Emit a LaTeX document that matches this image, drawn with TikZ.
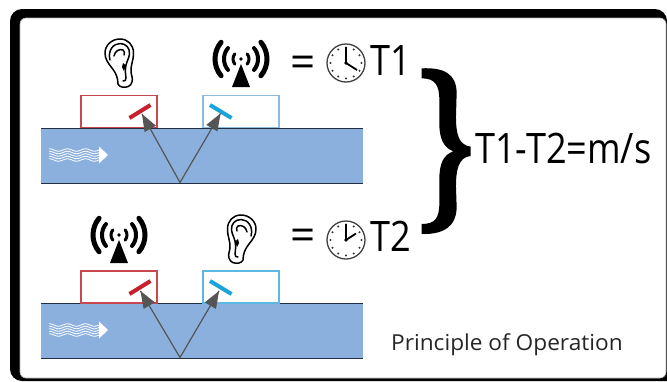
\documentclass[tikz,border=0pt]{standalone}
\usepackage{fontspec}
\setmainfont{Open Sans}
\newfontfamily\biglab[FakeStretch=0.86]{Open Sans}
\newfontfamily\smalllab[FakeStretch=1.03]{Open Sans}
\newfontfamily\eqlab{Open Sans}
\usetikzlibrary{calc}
\definecolor{pipeblue}{HTML}{8BB0DD}
\definecolor{pipeline}{HTML}{1F2F45}
\definecolor{redbox}{HTML}{C8474F}
\definecolor{bluebox}{HTML}{8DBBDD}
\definecolor{cyanbox}{HTML}{5BB8E0}
\definecolor{barred}{HTML}{C8202C}
\definecolor{barblue}{HTML}{18A4DC}
\definecolor{beam}{HTML}{555555}
\newcommand{\beamto}[2]{%
  \draw[draw=beam,line width=1.2pt] (#1) -- (#2);
  \fill[beam] (#2) -- ($(#2)!17pt!(#1)!6.5pt!90:(#1)$) -- ($(#2)!17pt!(#1)!6.5pt!-90:(#1)$) -- cycle;
}
\tikzset{
  pipe/.style={fill=pipeblue,draw=none,minimum width=322pt,minimum height=55pt,inner sep=0pt,outer sep=0pt},
  probebox/.style={fill=white,line width=1.1pt,minimum width=76pt,minimum height=32pt,inner sep=0pt,outer sep=0pt},
  bar/.style={line width=4pt},
  wave/.style={draw=white,line width=0.8pt},
  biglabel/.style={font=\biglab\fontsize{42}{42}\selectfont,text=black,inner sep=0pt},
  earicon/.pic={
    \begin{scope}[line width=1.5pt,draw=black,line cap=round,line join=round]
      \draw (13,45) .. controls (13,39) and (11,34) .. (7,29) .. controls (3,24) and (0,20) .. (0,14)
        .. controls (0,6) and (7,0) .. (15,0) .. controls (23,0) and (28.5,6) .. (28.5,14)
        .. controls (28.5,22) and (25.5,26) .. (26,33) .. controls (26.5,37) and (28,39) .. (27,43)
        .. controls (26,47.5) and (21,49) .. (17,48) .. controls (15,47.5) and (13.5,46.5) .. (13,45);
      \draw (5,21) .. controls (2.5,12) and (8,4.5) .. (15,4.5) .. controls (21,4.5) and (25,9) .. (24.5,15)
        .. controls (24,19) and (22,22) .. (21,26);
      \draw (9,17) .. controls (10,12) and (14,9.5) .. (18,11) .. controls (19.5,12) and (20,14) .. (19,16);
      \draw (21,26) .. controls (20,31) and (20.5,35) .. (21,39) .. controls (21,41) and (20,42.5) .. (18,42);
      \fill (18,24) -- (21,26.5) -- (19,32) -- (17,28) -- cycle;
    \end{scope}
  },
  radioicon/.pic={
    \fill[black] (0,0) circle (1.8pt);
    \fill[black] (0,5) -- (9,28) -- (-9,28) -- cycle;
    \foreach \r/\w in {8/3,17/4,26/5}{
      \draw[black,line width=\w pt,line cap=round] (40:\r) arc[start angle=40,end angle=-40,radius=\r];
      \draw[black,line width=\w pt,line cap=round] (140:\r) arc[start angle=140,end angle=220,radius=\r];
    }
  },
  clockface/.pic={
    \draw[draw=black!75,fill=white,line width=1.3pt] (0,0) circle (19pt);
    \foreach \a in {0,30,...,330}{\fill[black!80] (\a:15.5) circle (1.1pt);}
    \fill[black] (0,0) circle (1.8pt);
    \draw[black,line width=1.4pt] (0,0) -- (0,-16);
  }
}
\begin{document}
\begin{tikzpicture}[x=1pt,y=-1pt]
\useasboundingbox (0,0) rectangle (667,381);
% frame
\fill[black] (10,9) [rounded corners=12pt] -- (667,9) [sharp corners] -- (667,381) -- (22,381) [rounded corners=12pt] -- (10,381) -- cycle;
\fill[white,rounded corners=6pt] (20,18) rectangle (666,378);
\draw[black!30,line width=0.6pt,rounded corners=6pt] (20,18) rectangle (666,378);

% pipes
\node[pipe,anchor=north west] (pipeA) at (41,128) {};
\node[pipe,anchor=north west] (pipeB) at (41,303) {};
\foreach \p in {pipeA,pipeB}{
  \draw[pipeline,line width=0.9pt] (\p.north west) -- (\p.north east);
  \draw[pipeline,line width=0.9pt] (\p.south west) -- (\p.south east);
}
% flow arrows
\foreach \yy in {155,330}{
  \foreach \dy in {-5,-2.5,0,2.5,5}{
    \draw[wave,domain=49:101,samples=50,smooth] plot (\x,{\yy+\dy+1.2*sin(\x*20)});
  }
  \fill[white] (99,\yy-8.5) -- (108,\yy) -- (99,\yy+8.5) -- cycle;
}
% probe boxes
\node[probebox,draw=redbox,anchor=south west] (redA) at (81,127.5) {};
\node[probebox,draw=bluebox,anchor=south west] (blueA) at (203,127.5) {};
\node[probebox,draw=redbox,anchor=south west] (redB) at (81,303) {};
\node[probebox,draw=cyanbox,anchor=south west] (blueB) at (203,303) {};
% crystals
\coordinate (rA1) at (129.5,118); \coordinate (rA2) at (150.5,105);
\coordinate (bA1) at (210,105);   \coordinate (bA2) at (231.5,118);
\coordinate (rB1) at (129.5,294); \coordinate (rB2) at (150.5,281);
\coordinate (bB1) at (210,281);   \coordinate (bB2) at (231.5,294);
\draw[bar,draw=barred] (rA1) -- (rA2);
\draw[bar,draw=barblue] (bA1) -- (bA2);
\draw[bar,draw=barred] (rB1) -- (rB2);
\draw[bar,draw=barblue] (bB1) -- (bB2);
% beams
\coordinate (vA) at (180,182.5); \coordinate (vB) at (180,357.5);
\coordinate (tA1) at (142,114); \coordinate (tA2) at (220.5,113.5);
\coordinate (tB1) at (140.5,291); \coordinate (tB2) at (219,291);
\beamto{vA}{tA1}
\beamto{vA}{tA2}
\beamto{vB}{tB1}
\beamto{vB}{tB2}
% icons
\pic at (105,39) {earicon};
\pic[xscale=-1] at (256,215) {earicon};
\pic at (241,59) {radioicon};
\pic at (119,235) {radioicon};
% equals
\node[font=\eqlab\fontsize{44}{44}\selectfont,inner sep=0pt] (eqA) at (303,67) {=};
\node[font=\eqlab\fontsize{44}{44}\selectfont,inner sep=0pt] (eqB) at (303,240) {=};
% clocks
\pic at (346,63) {clockface};
\draw[black,line width=1.8pt] (346,63) -- (357,70);
\pic at (346,240) {clockface};
\draw[black,line width=1.8pt] (346,240) -- (356,233.5);
% labels
\node[biglabel,anchor=base west] (T1) at (370.5,75) {T1};
\node[biglabel,anchor=base west] (T2) at (370.5,251) {T2};
\node[biglabel,anchor=base west] (res) at (475,163) {T1-T2=m/s};
% brace
\begin{scope}[shift={(280,30)},x=0.3333pt,y=-0.3333pt]
\fill[black] (425,115) .. controls (490,112) and (530,130) .. (530,190) -- (528,260)
  .. controls (528,310) and (535,345) .. (572,350) -- (572,378)
  .. controls (535,382) and (528,420) .. (528,470) -- (530,530)
  .. controls (530,590) and (490,614) .. (425,612) -- (425,582)
  .. controls (465,582) and (478,565) .. (478,520) -- (478,450)
  .. controls (478,400) and (490,375) .. (520,364)
  .. controls (490,352) and (478,325) .. (478,280) -- (478,210)
  .. controls (478,165) and (465,145) .. (425,145) -- cycle;
\end{scope}
\node[font=\smalllab\fontsize{22}{22}\selectfont,anchor=base west,inner sep=0pt,text=black!85] (title) at (391,350) {Principle of Operation};
\end{tikzpicture}
\end{document}
